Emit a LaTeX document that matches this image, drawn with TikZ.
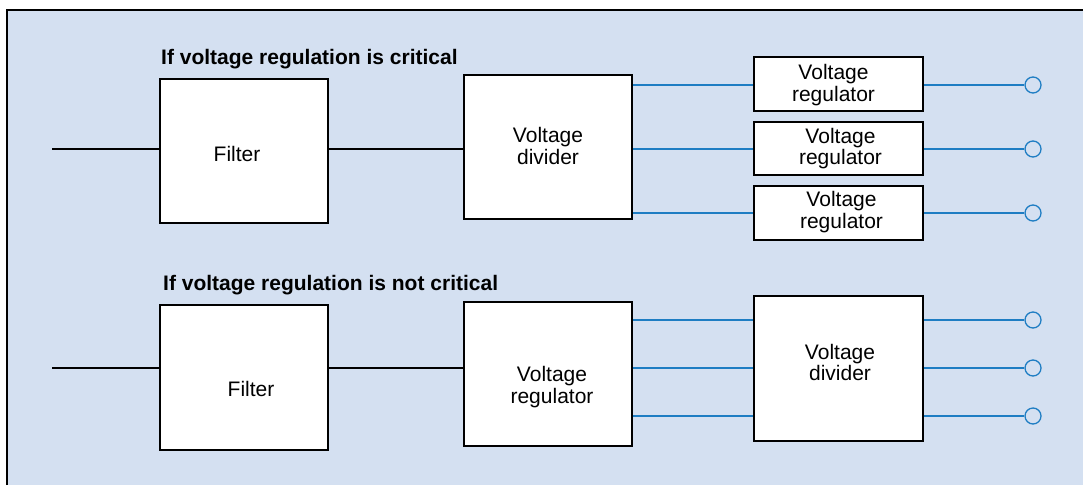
\documentclass[tikz,border=0pt]{standalone}
\usepackage{fontspec}
\setmainfont{Liberation Sans}
\usetikzlibrary{positioning,calc}

\definecolor{panelblue}{RGB}{212,224,241}
\definecolor{wireblue}{RGB}{30,125,195}

\tikzset{
  blk/.style={draw, line width=2pt, fill=white, inner sep=0pt, minimum width=168pt},
  lbl/.style={align=center, inner sep=0pt, font=\fontsize{21}{21.5}\selectfont},
  wire/.style={line width=1.2pt},
  bus/.style={wireblue, line width=1.5pt},
  term/.style={circle, draw=wireblue, line width=1.3pt, minimum size=16pt, inner sep=0pt},
  head/.style={anchor=west, inner sep=0pt, font=\bfseries\fontsize{21}{22}\selectfont},
}

\begin{document}
\begin{tikzpicture}[x=1pt, y=-1pt]
  \useasboundingbox (0,0) rectangle (1083,485);
  % panel behind both chains
  \fill[panelblue] (7,10) rectangle (1083,485);
  \draw[line width=2pt] (7,485) -- (7,10) -- (1083,10);

  % upper chain (regulation critical)
  \node[head] (hdA) at (161,59.5) {If voltage regulation is critical};
  \coordinate (inA) at (52,149);
  \node[blk, minimum height=144pt,
        label={[lbl,xshift=-7pt,yshift=-3pt]center:Filter}] (filtA) at (244,151) {};
  \node[blk, minimum height=144pt,
        label={[lbl,yshift=1pt]center:Voltage\\divider}] (divA) at (548,147) {};
  \node[blk, minimum width=169pt, minimum height=54pt,
        label={[lbl,xshift=-5pt,yshift=-1pt]center:Voltage\\regulator}] (regA1) at (838.5,84) {};
  \node[blk, minimum width=169pt, minimum height=53pt,
        label={[lbl,xshift=2pt]center:Voltage\\regulator}] (regA2) at (838.5,148.5) {};
  \node[blk, minimum width=169pt, minimum height=54pt,
        label={[lbl,xshift=3pt,yshift=1pt]center:Voltage\\regulator}] (regA3) at (838.5,213) {};
  \node[term] (outA1) at (1033,85) {};
  \node[term] (outA2) at (1033,149) {};
  \node[term] (outA3) at (1033,213) {};
  % upper connectors
  \draw[wire] (inA) -- (filtA.west |- inA);
  \draw[wire] (filtA.east |- inA) -- (divA.west |- inA);
  \draw[bus] (divA.east |- outA1) -- (regA1.west |- outA1);
  \draw[bus] (divA.east |- outA2) -- (regA2.west |- outA2);
  \draw[bus] (divA.east |- outA3) -- (regA3.west |- outA3);
  \draw[bus] (regA1.east |- outA1) -- (outA1);
  \draw[bus] (regA2.east |- outA2) -- (outA2);
  \draw[bus] (regA3.east |- outA3) -- (outA3);

  % lower chain (regulation not critical)
  \node[head] (hdB) at (163,285.3) {If voltage regulation is not critical};
  \coordinate (inB) at (52,368);
  \node[blk, minimum height=145pt,
        label={[lbl,xshift=7pt,yshift=-11.5pt]center:Filter}] (filtB) at (244,377.5) {};
  \node[blk, minimum height=144pt,
        label={[lbl,xshift=4pt,yshift=-13pt]center:Voltage\\regulator}] (regB) at (548,374) {};
  \node[blk, minimum width=169pt, minimum height=145pt,
        label={[lbl,xshift=1.5pt,yshift=6pt]center:Voltage\\divider}] (divB) at (838.5,368.5) {};
  \node[term] (outB1) at (1033,320) {};
  \node[term] (outB2) at (1033,368) {};
  \node[term] (outB3) at (1033,416) {};
  % lower connectors
  \draw[wire] (inB) -- (filtB.west |- inB);
  \draw[wire] (filtB.east |- inB) -- (regB.west |- inB);
  \draw[bus] (regB.east |- outB1) -- (divB.west |- outB1);
  \draw[bus] (regB.east |- outB2) -- (divB.west |- outB2);
  \draw[bus] (regB.east |- outB3) -- (divB.west |- outB3);
  \draw[bus] (divB.east |- outB1) -- (outB1);
  \draw[bus] (divB.east |- outB2) -- (outB2);
  \draw[bus] (divB.east |- outB3) -- (outB3);
\end{tikzpicture}
\end{document}
